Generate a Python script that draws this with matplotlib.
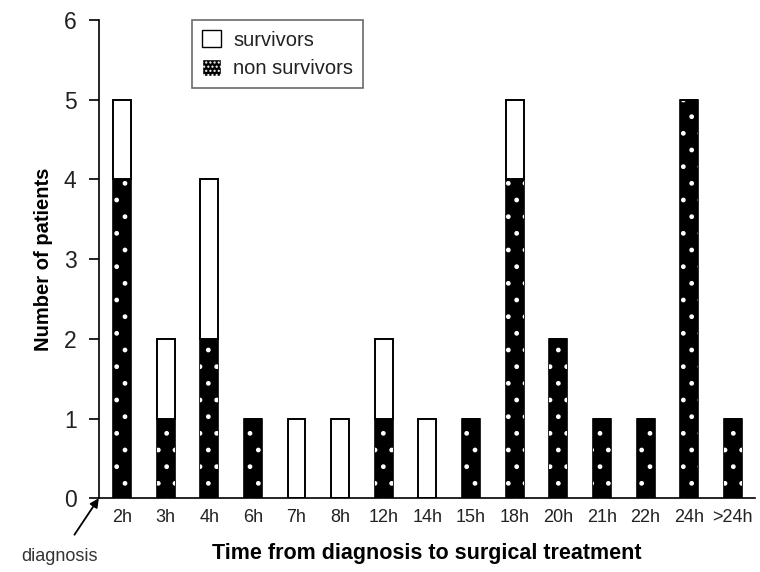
import numpy as np
import matplotlib.pyplot as plt
from matplotlib.patches import Patch

plt.rcParams['font.family'] = ['Liberation Sans', 'DejaVu Sans']
plt.rcParams['text.color'] = '#222222'
plt.rcParams['xtick.color'] = '#222222'
plt.rcParams['ytick.color'] = '#222222'

times = ["2h", "3h", "4h", "6h", "7h", "8h", "12h", "14h", "15h",
         "18h", "20h", "21h", "22h", "24h", ">24h"]
non_survivors = [4, 1, 2, 1, 0, 0, 1, 0, 1, 4, 2, 1, 1, 5, 1]
survivors = [1, 1, 2, 0, 1, 1, 1, 1, 0, 1, 0, 0, 0, 0, 0]

x = np.arange(len(times))
width = 0.41

fig = plt.figure(figsize=(7.6, 5.72), dpi=100)
ax = fig.add_axes([0.130, 0.129, 0.863, 0.836])

# dark bars with white dot pattern laid on top
ax.bar(x, non_survivors, width, color='black', edgecolor='black', linewidth=1.2)
ax.bar(x, non_survivors, width, color='none', edgecolor='white', hatch='.', linewidth=0)
ax.bar(x, survivors, width, bottom=non_survivors, color='white',
       edgecolor='black', linewidth=1.4)

ax.set_xlim(-0.53, 14.5)
ax.set_ylim(0, 6)
ax.set_yticks(range(0, 7))
ax.tick_params(axis='y', labelsize=16.5, length=7, width=1.2, direction='out',
               pad=9, color='black')
ax.set_xticks(x)
ax.set_xticklabels(times, fontsize=13)
ax.tick_params(axis='x', length=0, pad=8)

for s in ['top', 'right']:
    ax.spines[s].set_visible(False)
ax.spines['left'].set_linewidth(1.2)
ax.spines['bottom'].set_linewidth(1.2)

ax.set_ylabel("Number of patients", fontsize=14.5, fontweight='bold', labelpad=8)
ax.set_xlabel("Time from diagnosis to surgical treatment", fontsize=15.5,
              fontweight='bold', labelpad=12)

handles = [Patch(facecolor='white', edgecolor='black', label='survivors'),
           Patch(facecolor='black', edgecolor='white', hatch='....', label='non survivors')]
leg = ax.legend(handles=handles, loc='upper left', bbox_to_anchor=(0.142, 1.0),
                fontsize=14.5, frameon=True, fancybox=False, handlelength=0.95,
                handleheight=0.95, handletextpad=0.6, borderpad=0.5,
                labelspacing=0.45, borderaxespad=0)
leg.get_frame().set_edgecolor('#444444')
leg.get_frame().set_linewidth(1.2)

ax.annotate("diagnosis", xy=(-0.53, 0), xytext=(-1.42, -0.73),
            textcoords='data', fontsize=13, color='#333333',
            ha='center', va='center', annotation_clip=False,
            arrowprops=dict(arrowstyle='-|>', color='black', lw=1.3,
                            shrinkA=9, shrinkB=0, mutation_scale=13))

fig.savefig("out.png", dpi=100)
